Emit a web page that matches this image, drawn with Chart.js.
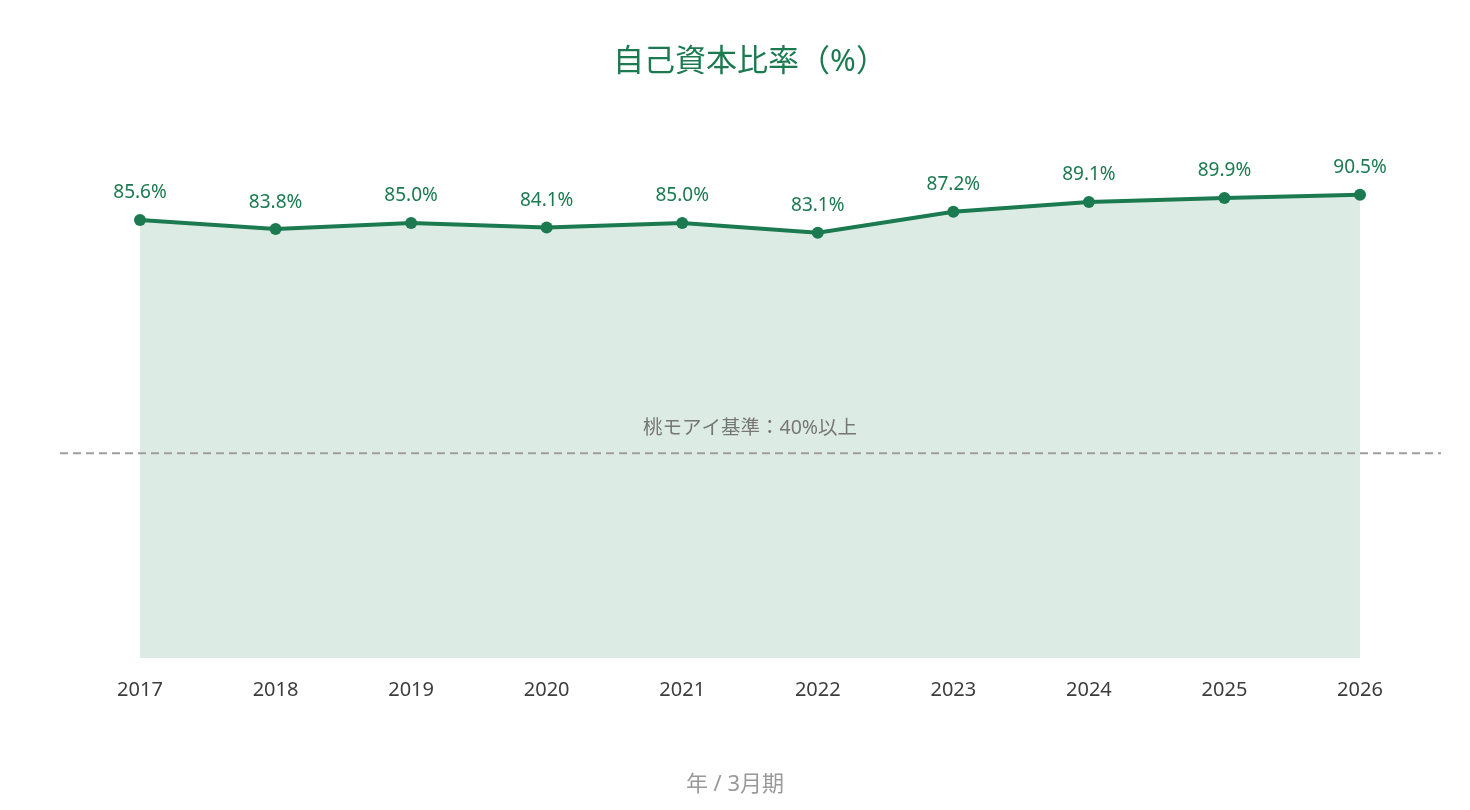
<!DOCTYPE html>
<html lang="ja">
<head>
<meta charset="utf-8">
<title>自己資本比率</title>
<script src="https://cdn.jsdelivr.net/npm/chart.js@4.4.1/dist/chart.umd.min.js"></script>
<style>
  html, body { margin: 0; padding: 0; background: #fff; }
  #wrap { width: 1470px; height: 810px; position: relative; }
</style>
</head>
<body>
<div id="wrap"><canvas id="chart"></canvas></div>
<script>
// 自己資本比率 line chart with 40% benchmark

const years = ['2017', '2018', '2019', '2020', '2021', '2022', '2023', '2024', '2025', '2026'];
const ratios = [85.6, 83.8, 85.0, 84.1, 85.0, 83.1, 87.2, 89.1, 89.9, 90.5];
const benchmark = 40;
const benchmarkLabel = '桃モアイ基準：40%以上';
const xAxisTitle = '年 / 3月期';

const GREEN = '#1b7a50';
const FONT = "'Noto Sans', 'Noto Sans CJK JP', sans-serif";

Chart.defaults.font.family = FONT;

// dashed benchmark line + its caption
const benchmarkPlugin = {
  id: 'benchmark',
  afterDatasetsDraw(chart) {
    const { ctx, chartArea, scales } = chart;
    const y = scales.y.getPixelForValue(benchmark);
    ctx.save();
    ctx.strokeStyle = '#9e9e9e';
    ctx.lineWidth = 2;
    ctx.setLineDash([8, 5]);
    ctx.beginPath();
    ctx.moveTo(chartArea.left - 80, y);
    ctx.lineTo(chartArea.right + 81, y);
    ctx.stroke();
    ctx.setLineDash([]);
    ctx.fillStyle = '#777';
    ctx.font = '19.5px ' + FONT;
    ctx.textAlign = 'center';
    ctx.textBaseline = 'middle';
    ctx.fillText(benchmarkLabel, (chartArea.left + chartArea.right) / 2, y - 25);
    ctx.restore();
  }
};

// value labels above each point
const valueLabels = {
  id: 'valueLabels',
  afterDatasetsDraw(chart) {
    const { ctx } = chart;
    const meta = chart.getDatasetMeta(0);
    ctx.save();
    ctx.fillStyle = GREEN;
    ctx.font = '19px ' + FONT;
    ctx.textAlign = 'center';
    ctx.textBaseline = 'middle';
    meta.data.forEach((pt, i) => {
      ctx.fillText(ratios[i].toFixed(1) + '%', pt.x, pt.y - 27);
    });
    ctx.restore();
  }
};

// x axis title, centred on the canvas
const axisTitle = {
  id: 'axisTitle',
  afterDraw(chart) {
    const { ctx } = chart;
    ctx.save();
    ctx.fillStyle = '#999';
    ctx.font = '22px ' + FONT;
    ctx.textAlign = 'center';
    ctx.textBaseline = 'middle';
    ctx.fillText(xAxisTitle, chart.width / 2, 785);
    ctx.restore();
  }
};

new Chart(document.getElementById('chart'), {
  type: 'line',
  data: {
    labels: years,
    datasets: [{
      label: '自己資本比率',
      data: ratios,
      borderColor: GREEN,
      borderWidth: 4,
      backgroundColor: 'rgba(27, 122, 80, 0.15)',
      fill: 'origin',
      tension: 0,
      pointRadius: 6,
      pointHoverRadius: 6,
      pointBackgroundColor: GREEN,
      pointBorderColor: GREEN,
      pointBorderWidth: 0
    }]
  },
  options: {
    responsive: true,
    maintainAspectRatio: false,
    animation: false,
    layout: { padding: { left: 140, right: 110, top: 0, bottom: 96 } },
    plugins: {
      legend: { display: false },
      tooltip: { enabled: false },
      title: {
        display: true,
        text: '自己資本比率（%）',
        color: GREEN,
        font: { size: 31, weight: 'normal', family: FONT },
        padding: { top: 44, bottom: 65 }
      }
    },
    scales: {
      x: {
        offset: false,
        grid: { display: false },
        border: { display: false },
        ticks: { color: '#3d3d3d', font: { size: 20 }, padding: 12 }
      },
      y: {
        display: false,
        min: 0,
        max: 100
      }
    }
  },
  plugins: [benchmarkPlugin, valueLabels, axisTitle]
});
</script>
</body>
</html>
